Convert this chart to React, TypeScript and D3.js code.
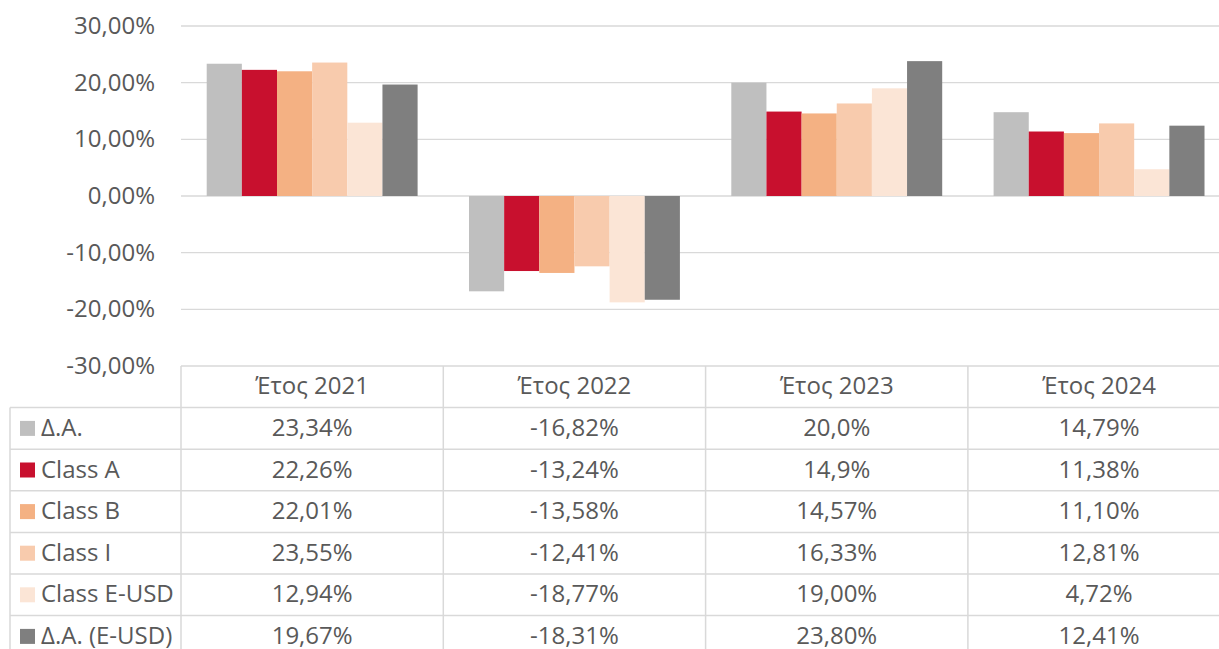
import React from "react";
import * as d3 from "d3";

const categories = ["Έτος 2021", "Έτος 2022", "Έτος 2023", "Έτος 2024"];
const seriesNames = ["Δ.Α.", "Class A", "Class B", "Class I", "Class E-USD", "Δ.Α. (E-USD)"];
const seriesColors = ["#bfbfbf", "#c8102e", "#f4b183", "#f8cbad", "#fbe5d6", "#7f7f7f"];
const values = [
  [23.34, -16.82, 20.0, 14.79],
  [22.26, -13.24, 14.9, 11.38],
  [22.01, -13.58, 14.57, 11.1],
  [23.55, -12.41, 16.33, 12.81],
  [12.94, -18.77, 19.0, 4.72],
  [19.67, -18.31, 23.8, 12.41],
];
const tableLabels = [
  ["23,34%", "-16,82%", "20,0%", "14,79%"],
  ["22,26%", "-13,24%", "14,9%", "11,38%"],
  ["22,01%", "-13,58%", "14,57%", "11,10%"],
  ["23,55%", "-12,41%", "16,33%", "12,81%"],
  ["12,94%", "-18,77%", "19,00%", "4,72%"],
  ["19,67%", "-18,31%", "23,80%", "12,41%"],
];
const yTicks = [30, 20, 10, 0, -10, -20, -30];

const W = 1219;
const H = 649;
const plotLeft = 181;
const catW = 262.3;
const plotTop = 26;
const plotBottom = 366;
const rowH = 41.6;
const legendLeft = 10;
const font = "'Open Sans', sans-serif";
const textColor = "#595959";
const gridColor = "#d9d9d9";
const fs = 24;

export default function App() {
  const x0 = d3.scaleBand<string>().domain(categories).range([plotLeft, plotLeft + catW * categories.length]);
  const x1 = d3.scaleBand<string>().domain(seriesNames).range([25.7, catW - 25.7]);
  const y = d3.scaleLinear().domain([-30, 30]).range([plotBottom, plotTop]);
  const fmt = (v: number) => (v < 0 ? "-" : "") + d3.format(".2f")(Math.abs(v)).replace(".", ",") + "%";
  const right = plotLeft + catW * categories.length;
  const headerTop = plotBottom;
  const bodyTop = headerTop + rowH;

  return (
    <svg width={W} height={H} style={{ position: "absolute", left: 0, top: 0, background: "#fff" }} fontFamily={font}>
      {yTicks.map((t) => (
        <g key={t}>
          {t !== -30 && (
            <line x1={plotLeft} x2={right} y1={y(t)} y2={y(t)} stroke={gridColor} strokeWidth={1.3} />
          )}
          <text x={155} y={y(t)} dy="0.34em" textAnchor="end" fontSize={fs} fill={textColor}>
            {fmt(t)}
          </text>
        </g>
      ))}
      {seriesNames.map((s, si) => (
        <g key={s}>
          {categories.map((c, ci) => {
            const v = values[si][ci];
            return (
              <rect
                key={c}
                x={(x0(c) as number) + (x1(s) as number)}
                width={x1.bandwidth()}
                y={Math.min(y(v), y(0))}
                height={Math.abs(y(v) - y(0))}
                fill={seriesColors[si]}
              />
            );
          })}
        </g>
      ))}
      <g stroke={gridColor} strokeWidth={1.5} fill="none">
        <line x1={plotLeft} x2={right} y1={headerTop} y2={headerTop} />
        {categories.map((c) => (
          <line key={c} x1={x0(c) as number} x2={x0(c) as number} y1={headerTop} y2={H + 20} />
        ))}
        <line x1={right} x2={right} y1={headerTop} y2={H + 20} />
        {seriesNames.map((s, si) => (
          <line key={s} x1={legendLeft} x2={right} y1={bodyTop + si * rowH} y2={bodyTop + si * rowH} />
        ))}
        <line x1={legendLeft} x2={right} y1={bodyTop + seriesNames.length * rowH} y2={bodyTop + seriesNames.length * rowH} />
        <line x1={legendLeft} x2={legendLeft} y1={bodyTop} y2={H + 20} />
      </g>
      {categories.map((c) => (
        <text
          key={c}
          x={(x0(c) as number) + catW / 2}
          y={headerTop + rowH / 2}
          dy="0.32em"
          textAnchor="middle"
          fontSize={fs}
          fill={textColor}
        >
          {c}
        </text>
      ))}
      {seriesNames.map((s, si) => {
        const cy = bodyTop + si * rowH + rowH / 2;
        return (
          <g key={s}>
            <rect x={20} y={cy - 7.5} width={15} height={15} fill={seriesColors[si]} />
            <text x={41} y={cy} dy="0.32em" fontSize={fs} fill={textColor}>
              {s}
            </text>
            {categories.map((c, ci) => (
              <text
                key={c}
                x={(x0(c) as number) + catW / 2}
                y={cy}
                dy="0.32em"
                textAnchor="middle"
                fontSize={fs}
                fill={textColor}
              >
                {tableLabels[si][ci]}
              </text>
            ))}
          </g>
        );
      })}
    </svg>
  );
}
